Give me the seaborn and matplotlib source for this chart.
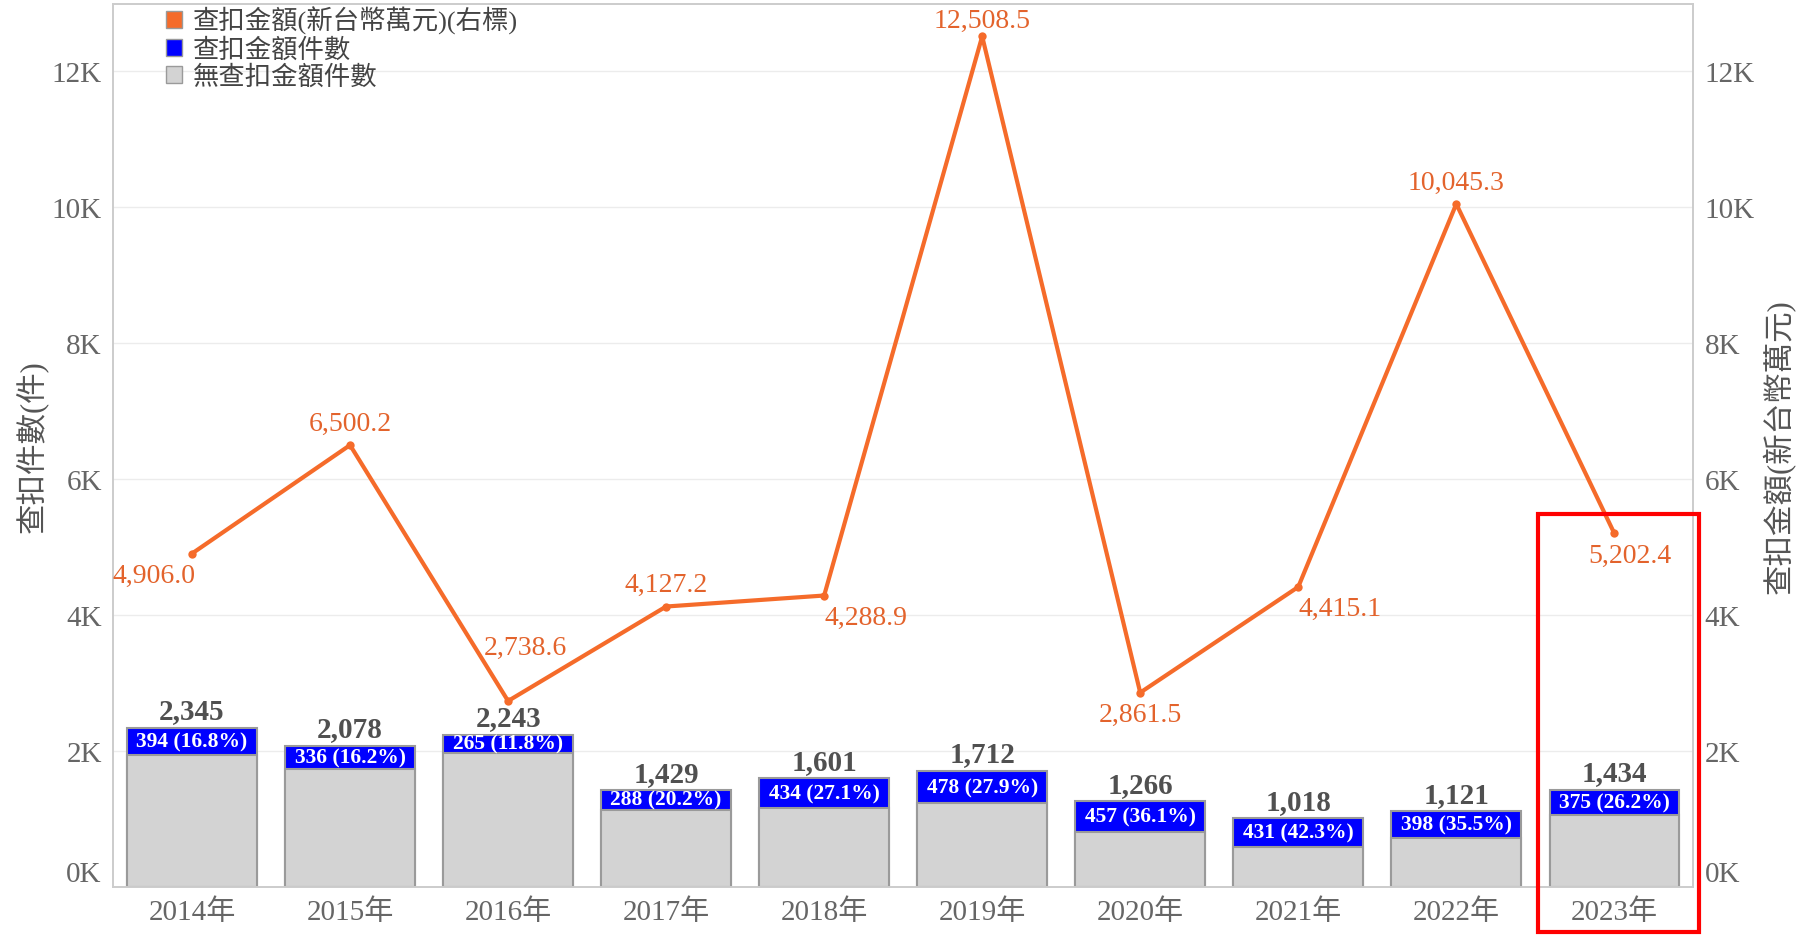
import numpy as np
import pandas as pd
import seaborn as sns
import matplotlib.pyplot as plt
from matplotlib.patches import Patch, Rectangle
from matplotlib.ticker import FuncFormatter

years = ["2014年", "2015年", "2016年", "2017年", "2018年", "2019年", "2020年", "2021年", "2022年", "2023年"]
total_cases = [2345, 2078, 2243, 1429, 1601, 1712, 1266, 1018, 1121, 1434]
seized_cases = [394, 336, 265, 288, 434, 478, 457, 431, 398, 375]
seized_amount = [4906.0, 6500.2, 2738.6, 4127.2, 4288.9, 12508.5, 2861.5, 4415.1, 10045.3, 5202.4]

# label offsets for line values (pixels), picked by eye
label_offsets = [(-38, -22), (0, 22), (17, 54), (0, 22), (42, -22),
                 (0, 16), (0, -22), (42, -21), (0, 22), (16, -22)]

sns.set_theme(style="white")
plt.rcParams["font.family"] = ["Liberation Serif", "Noto Sans CJK TC", "DejaVu Sans"]

df = pd.DataFrame({"year": years, "total": total_cases, "seized": seized_cases,
                   "amount": seized_amount})
df["none"] = df["total"] - df["seized"]
df["pct"] = (100 * df["seized"] / df["total"]).round(1)

BLUE = "#0000ff"
GREY = "#d3d3d3"
EDGE = "#9a9a9a"
ORANGE = "#f56b2a"
ORANGE_TXT = "#e3632c"
TICK = "#666666"

fig = plt.figure(figsize=(18.02, 9.37), dpi=100)
ax = fig.add_axes([0.0627, 0.052, 0.877, 0.9427])

sns.barplot(data=df, x="year", y="total", color=BLUE, width=0.82, edgecolor=EDGE,
            linewidth=1.5, saturation=1, ax=ax)
sns.barplot(data=df, x="year", y="none", color=GREY, width=0.82, edgecolor=EDGE,
            linewidth=1.5, saturation=1, ax=ax)

ymax = 12985
ax.set_ylim(0, ymax)
ax.set_xlim(-0.5, len(years) - 0.5)
ax.set_yticks(np.arange(0, 12001, 2000))
kfmt = FuncFormatter(lambda v, p: f"{int(v / 1000)}K")
ax.yaxis.set_major_formatter(kfmt)
ax.grid(axis="y", color="#ececec", linewidth=1)
ax.set_axisbelow(True)
ax.set_xlabel("")
ax.set_ylabel("查扣件數(件)", fontsize=22, color="#555555", labelpad=2)
ax.tick_params(axis="both", labelsize=21, colors=TICK, length=0, pad=8)

for i, row in df.iterrows():
    ax.text(i, row["total"] + 50, f"{row['total']:,}", ha="center", va="bottom",
            fontsize=21, fontweight="bold", color="#505050")
    ax.text(i, row["none"] + row["seized"] / 2, f"{row['seized']} ({row['pct']:.1f}%)",
            ha="center", va="center", fontsize=15.5, fontweight="bold", color="white")

ax2 = ax.twinx()
xs = np.arange(len(years))
sns.lineplot(x=xs, y=df["amount"], color=ORANGE, linewidth=3, marker="o",
             markersize=6, markeredgewidth=0, ax=ax2)
ax2.set_ylim(0, ymax)
ax2.set_xlim(-0.5, len(years) - 0.5)
ax2.set_yticks(np.arange(0, 12001, 2000))
ax2.yaxis.set_major_formatter(kfmt)
ax2.tick_params(axis="y", labelsize=21, colors=TICK, length=0, pad=8)
ax2.set_ylabel("查扣金額(新台幣萬元)", fontsize=22, color="#555555", labelpad=6)

# the 0K labels sit above the baseline in the original
fig.canvas.draw()
for a in (ax, ax2):
    labels = a.get_yticklabels()
    labels[0].set_verticalalignment("bottom")

for i, v in enumerate(df["amount"]):
    dx, dy = label_offsets[i]
    ax2.annotate(f"{v:,.1f}", (i, v), xytext=(dx, dy), textcoords="offset pixels",
                 ha="center", va="center", fontsize=20, color=ORANGE_TXT)

for a in (ax, ax2):
    for s in a.spines.values():
        s.set_color("#cccccc")
        s.set_linewidth(1.2)

handles = [Patch(facecolor=ORANGE, edgecolor=EDGE, label="查扣金額(新台幣萬元)(右標)"),
           Patch(facecolor=BLUE, edgecolor=EDGE, label="查扣金額件數"),
           Patch(facecolor=GREY, edgecolor=EDGE, label="無查扣金額件數")]
leg = ax2.legend(handles=handles, loc="upper left", bbox_to_anchor=(0.027, 1.01),
                 frameon=False, fontsize=19, handlelength=0.6, handleheight=0.6,
                 handletextpad=0.4, labelspacing=0.12, borderaxespad=0)
for t in leg.get_texts():
    t.set_color("#444444")

fig.patches.append(Rectangle((0.8535, 0.0043), 0.0893, 0.446, transform=fig.transFigure,
                             fill=False, edgecolor="red", linewidth=3))

fig.savefig("out.png", dpi=100)
